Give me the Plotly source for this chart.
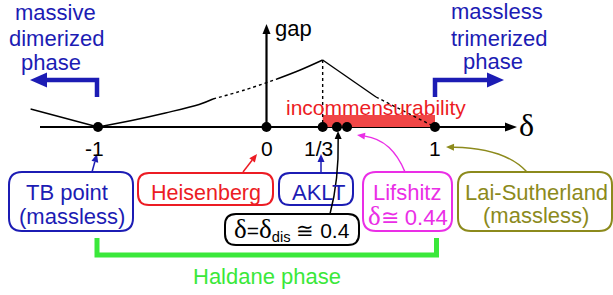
import math
import plotly.graph_objects as go

W, H = 613, 295
# pixel mapping of the data axes (delta horizontally, gap vertically)
X0, SX = 266.5, 168.5
Y0, SY = 127.0, 100.0

# ---------------- data ----------------
dot_delta = [-1.0, 0.0, 1/3, 0.418, 0.478, 1.0]
tick_vals = [-1.0, 0.0, 1/3, 1.0]
tick_text = ["-1", "0", "1/3", "1"]

gap_left_x = [-1.40, -1.0]
gap_left_y = [0.18, 0.0]
gap_rise_x = [-1.0, -0.8, -0.6, -0.4, -0.3175]
gap_rise_y = [0.0, 0.065, 0.14, 0.225, 0.28]
gap_rise_dot_x = [-0.3175, -0.13, 0.0623]
gap_rise_dot_y = [0.28, 0.37, 0.48]
gap_peak_x = [0.0623, 0.2, 1/3]
gap_peak_y = [0.48, 0.57, 0.67]
gap_fall_x = [1/3, 0.65]
gap_fall_y = [0.67, 0.30]
gap_fall_dot_x = [0.65, 1.0]
gap_fall_dot_y = [0.30, 0.0]
peak_drop_x = [1/3, 1/3]
peak_drop_y = [0.67, 0.0]

incomm_start, incomm_end, incomm_height = 1/3, 1.0, 0.12

# ---------------- style ----------------
SANS = "Liberation Sans, Arial, Helvetica, sans-serif"
SERIF = "Liberation Serif, Times New Roman, serif"
BLUE = "#1c1cb4"
RED = "#ec1c24"
MAG = "#ea2ee6"
OLIVE = "#8c8a1c"
GREEN = "#3ae83a"
BLACK = "#000000"


def px(x):
    return x / W


def py(y):
    return 1 - y / H


fig = go.Figure()

def line(xs, ys, dash="solid"):
    fig.add_trace(go.Scatter(x=xs, y=ys, mode="lines", hoverinfo="skip",
                             line=dict(color=BLACK, width=1.4, dash=dash, shape="spline" if len(xs) > 2 else "linear"),
                             showlegend=False))

line(gap_left_x, gap_left_y)
line(gap_rise_x, gap_rise_y)
line(gap_rise_dot_x, gap_rise_dot_y, "dot")
line(gap_peak_x, gap_peak_y)
line(gap_fall_x, gap_fall_y)
line(gap_fall_dot_x, gap_fall_dot_y, "dot")
line(peak_drop_x, peak_drop_y, "dot")

fig.add_trace(go.Scatter(x=dot_delta, y=[0] * len(dot_delta), mode="markers",
                         marker=dict(color=BLACK, size=10), hoverinfo="skip", showlegend=False))

shapes = []
# incommensurability region
shapes.append(dict(type="rect", xref="x", yref="y", x0=incomm_start, x1=incomm_end,
                   y0=0, y1=incomm_height, fillcolor="#f04646", line=dict(width=0), layer="below"))
# delta axis
shapes.append(dict(type="line", xref="paper", yref="paper", x0=px(40), x1=px(510), y0=py(127), y1=py(127),
                   line=dict(color=BLACK, width=2.2), layer="below"))
shapes.append(dict(type="path", xref="paper", yref="paper",
                   path=f"M {px(517)} {py(127)} L {px(505)} {py(122.5)} L {px(505)} {py(131.5)} Z",
                   fillcolor=BLACK, line=dict(width=0)))
# gap axis
shapes.append(dict(type="line", xref="paper", yref="paper", x0=px(266.5), x1=px(266.5), y0=py(127), y1=py(32),
                   line=dict(color=BLACK, width=2.2), layer="below"))
shapes.append(dict(type="path", xref="paper", yref="paper",
                   path=f"M {px(266.5)} {py(24)} L {px(262.5)} {py(34)} L {px(270.5)} {py(34)} Z",
                   fillcolor=BLACK, line=dict(width=0)))

# thick blue phase arrows
for (xv, xend, tip, base) in [(97, 44, 30, 47), (435, 490, 504, 487)]:
    shapes.append(dict(type="path", xref="paper", yref="paper",
                       path=f"M {px(xv)} {py(97)} L {px(xv)} {py(80)} L {px(xend)} {py(80)}",
                       line=dict(color=BLUE, width=4.5)))
    shapes.append(dict(type="path", xref="paper", yref="paper",
                       path=f"M {px(tip)} {py(80)} L {px(base)} {py(72.5)} L {px(base)} {py(87.5)} Z",
                       fillcolor=BLUE, line=dict(width=0)))

# green Haldane bracket
shapes.append(dict(type="path", xref="paper", yref="paper",
                   path=f"M {px(97)} {py(238)} L {px(97)} {py(255)} L {px(436.5)} {py(255)} L {px(436.5)} {py(238)}",
                   line=dict(color=GREEN, width=5)))


def rrect(x0, y0, x1, y1, color, r=11):
    p = (f"M {px(x0 + r)} {py(y0)} L {px(x1 - r)} {py(y0)} Q {px(x1)} {py(y0)} {px(x1)} {py(y0 + r)} "
         f"L {px(x1)} {py(y1 - r)} Q {px(x1)} {py(y1)} {px(x1 - r)} {py(y1)} "
         f"L {px(x0 + r)} {py(y1)} Q {px(x0)} {py(y1)} {px(x0)} {py(y1 - r)} "
         f"L {px(x0)} {py(y0 + r)} Q {px(x0)} {py(y0)} {px(x0 + r)} {py(y0)} Z")
    shapes.append(dict(type="path", xref="paper", yref="paper", path=p,
                       fillcolor="white", line=dict(color=color, width=2)))

rrect(9, 172, 133, 231, BLUE, 13)
rrect(138, 173, 273, 205, RED, 11)
rrect(279, 173, 353, 205, BLUE, 11)
rrect(225, 214, 359, 245, BLACK, 11)
rrect(363, 172, 452, 231, MAG, 13)
rrect(458, 172, 612, 231, OLIVE, 13)


# thin label arrows: quadratic body + filled head
def arrow(sx, sy, hx, hy, color, cx=None, cy=None, w=1.5, L=8.0, hw=3.5):
    if cx is None:
        cx, cy = (sx + hx) / 2, (sy + hy) / 2
    dx, dy = hx - cx, hy - cy
    n = math.hypot(dx, dy)
    ux, uy = dx / n, dy / n
    bx, by = hx - L * ux, hy - L * uy
    nx, ny = -uy, ux
    shapes.append(dict(type="path", xref="paper", yref="paper",
                       path=f"M {px(sx)} {py(sy)} Q {px(cx)} {py(cy)} {px(bx)} {py(by)}",
                       line=dict(color=color, width=w)))
    shapes.append(dict(type="path", xref="paper", yref="paper",
                       path=(f"M {px(hx)} {py(hy)} L {px(bx + hw * nx)} {py(by + hw * ny)} "
                             f"L {px(bx - hw * nx)} {py(by - hw * ny)} Z"),
                       fillcolor=color, line=dict(width=0)))

arrow(92, 172, 97, 154, BLUE)
arrow(243, 172, 257, 154, RED)
arrow(321, 172, 321, 154, BLUE)
arrow(330, 214, 338, 131, BLACK, 339, 180)
arrow(405, 172, 357, 135, MAG, 392, 140)
arrow(527, 172, 446, 147, OLIVE, 505, 148)

fig.update_layout(shapes=shapes)

ann = []

def text(x, y, s, color, size, font=SANS, xanchor="center"):
    ann.append(dict(x=px(x), y=py(y), xref="paper", yref="paper", text=s, showarrow=False,
                    font=dict(family=font, size=size, color=color), xanchor=xanchor, yanchor="middle"))

# phase labels
text(55, 12.5, "massive", BLUE, 22)
text(56, 38.5, "dimerized", BLUE, 22)
text(51, 62.5, "phase", BLUE, 22)
text(497, 11.5, "massless", BLUE, 22)
text(499, 38.5, "trimerized", BLUE, 22)
text(493, 61.5, "phase", BLUE, 22)

text(273, 28.5, "gap", BLACK, 22, xanchor="left")
text(376, 107.5, "incommensurability", RED, 21)
text(526, 125, "δ", BLACK, 32, font=SERIF)

# tick labels from data positions
for v, t in zip(tick_vals, tick_text):
    ann.append(dict(x=v, y=0, xref="x", yref="y", text=t, showarrow=False, yshift=-21,
                    font=dict(family=SANS, size=21, color=BLACK), xanchor="center", yanchor="middle",
                    xshift=-4 if t == "-1" else (-4 if t == "1/3" else 0)))

# box labels
text(66.5, 192.5, "TB point", BLUE, 22)
text(72, 216, "(massless)", BLUE, 22)
text(205.5, 192.5, "Heisenberg", RED, 21.5)
text(318, 192.5, "AKLT", BLUE, 22)
text(407, 192.5, "Lifshitz", MAG, 22)
text(408, 215.5, f"<span style='font-family:{SERIF}; font-size:27px'>δ</span>≅ 0.44", MAG, 22)
text(536, 192.5, "Lai-Sutherland", OLIVE, 22)
text(536, 215.5, "(massless)", OLIVE, 22)
text(291.5, 229.5, f"<span style='font-family:{SERIF}; font-size:27px'>δ</span>=<span style='font-family:{SERIF}; font-size:27px'>δ</span><sub>dis</sub> ≅ 0.4", BLACK, 21)
text(267, 276, "Haldane phase", GREEN, 22)

fig.update_layout(
    annotations=ann,
    width=W, height=H,
    margin=dict(l=0, r=0, t=0, b=0),
    paper_bgcolor="white", plot_bgcolor="white",
    xaxis=dict(range=[-X0 / SX, (W - X0) / SX], visible=False, fixedrange=True),
    yaxis=dict(range=[(Y0 - H) / SY, Y0 / SY], visible=False, fixedrange=True),
    showlegend=False,
)

fig.write_html("out.html", config={"displayModeBar": False},
               post_script="document.body.style.margin='0px';document.body.style.overflow='hidden';")
